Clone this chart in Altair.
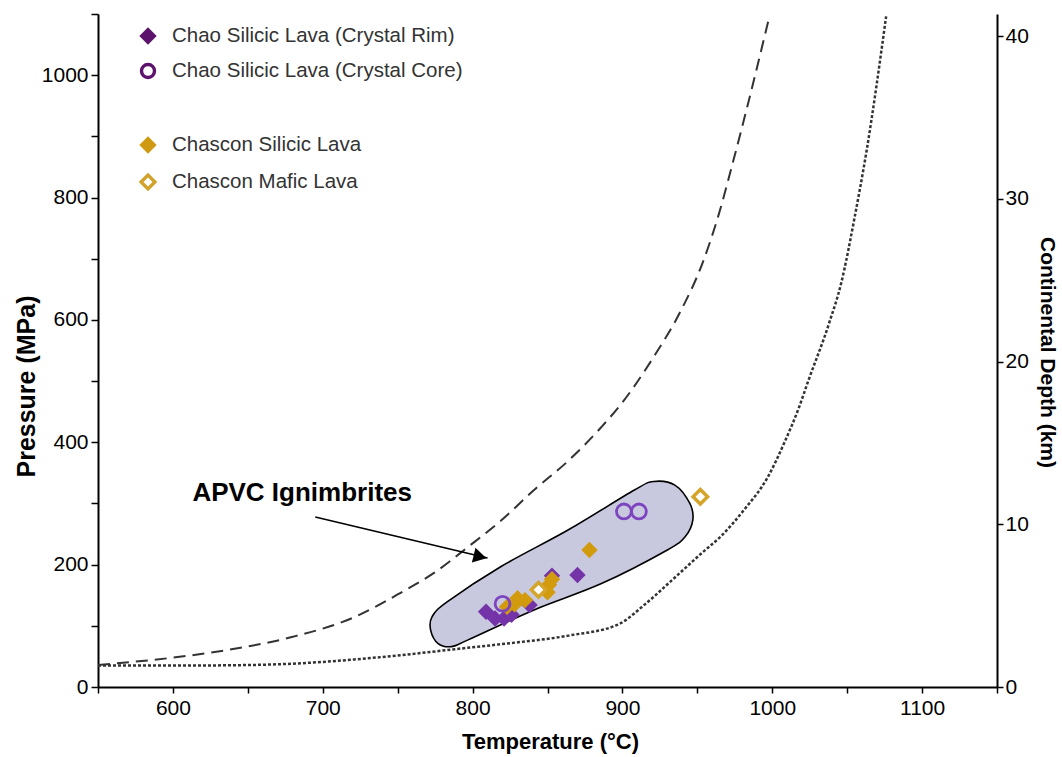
import altair as alt
import pandas as pd

FONT = "Liberation Sans"

# ---- boundary curves (Temperature °C, Pressure MPa) ----
dash_T = [550, 600, 635, 680, 721, 752, 774, 797, 819, 841, 864, 886, 899, 921, 939, 953, 964, 974, 984, 998]
dash_P = [36, 48, 60, 82, 114, 154, 186, 229, 272, 322, 370, 425, 462, 540, 615, 690, 770, 860, 955, 1095]

dot_T = [550, 600, 653, 700, 721, 752, 789, 819, 864, 897, 915, 931, 953, 966, 981, 997, 1008, 1018, 1024, 1038, 1046, 1055, 1063, 1076]
dot_P = [35, 35, 36, 41, 45, 52, 62, 70, 84, 102, 135, 170, 219, 247, 289, 343, 399, 458, 500, 595, 660, 768, 877, 1096]

# ---- APVC ignimbrite field outline ----
field_T = [773, 783, 819, 864, 908, 921, 935, 945, 947, 942, 930, 886, 841, 797, 786, 777, 772]
field_P = [115, 139, 197, 257, 322, 336, 330, 300, 273, 246, 224, 169, 126, 77, 66, 71, 93]

# ---- samples ----
rim_T = [809, 815, 821, 826, 838, 853, 870]
rim_P = [123, 112, 112, 118, 134, 182, 183]

core_T = [820, 901, 911]
core_P = [136, 287, 287]

sil_T = [823, 828, 830, 835, 850, 851, 853, 878]
sil_P = [131, 135, 145, 142, 155, 167, 176, 224]

maf_T = [844, 952]
maf_P = [159, 311]

# annotation
label_T, label_P = [613], [317]
arrow_T0, arrow_P0 = [695], [278]
arrow_T1, arrow_P1 = [810], [211]
head_T, head_P = [805], [213]

MPA_PER_KM = 26.6
depth_ticks = [0, 10, 20, 30, 40]

legend_labels = ["Chao Silicic Lava (Crystal Rim)", "Chao Silicic Lava (Crystal Core)",
                 "Chascon Silicic Lava", "Chascon Mafic Lava"]

xscale = alt.Scale(domain=[550, 1150], nice=False, zero=False)
yscale = alt.Scale(domain=[0, 1100], nice=False)

xaxis = alt.Axis(
    values=list(range(550, 1151, 50)), format="d",
    labelExpr="datum.value % 100 == 0 ? datum.label : ''",
    title="Temperature (°C)", titleFont=FONT, titleFontSize=22, titleFontWeight="bold",
    titleColor="black", titleX=452, titleY=44, titleAnchor="middle",
    labelFont=FONT, labelFontSize=21, labelColor="black", labelPadding=4,
    tickSize=6, tickColor="black", tickWidth=1.5,
    domainColor="black", domainWidth=2, grid=False, labelFlush=False, labelOverlap=False)

yaxis = alt.Axis(
    values=list(range(0, 1101, 100)), format="d",
    labelExpr="datum.value % 200 == 0 ? datum.label : ''",
    title="Pressure (MPa)", titleFont=FONT, titleFontSize=25, titleFontWeight="bold",
    titleColor="black", titleX=-72, titleY=372, titleBaseline="middle", titleAngle=270,
    labelFont=FONT, labelFontSize=21, labelColor="black", labelPadding=3,
    tickSize=7, tickColor="black", tickWidth=1.5,
    domainColor="black", domainWidth=2, grid=False, labelFlush=False, labelOverlap=False)


def X():
    return alt.X("T:Q", scale=xscale, axis=xaxis)


def Y():
    return alt.Y("P:Q", scale=yscale, axis=yaxis)


def df(T, P):
    return pd.DataFrame({"T": T, "P": P, "i": range(len(T))})


field = alt.Chart(df(field_T, field_P)).mark_line(
    interpolate="cardinal-closed", fill="#c8c8df", stroke="black", strokeWidth=1.6
).encode(x=X(), y=Y(), order="i:Q")

dashed = alt.Chart(df(dash_T, dash_P)).mark_line(
    interpolate="monotone", color="#333333", strokeWidth=2, strokeDash=[12, 7], clip=True
).encode(x=X(), y=Y(), order="i:Q")

dotted = alt.Chart(df(dot_T, dot_P)).mark_line(
    interpolate="monotone", color="#333333", strokeWidth=2.5, strokeDash=[3, 2], clip=True
).encode(x=X(), y=Y(), order="i:Q")

arrow = alt.Chart(pd.DataFrame({"T": arrow_T0, "P": arrow_P0, "T1": arrow_T1, "P1": arrow_P1})).mark_rule(
    color="black", strokeWidth=1.6
).encode(x=X(), y=Y(), x2="T1:Q", y2="P1:Q")

head = alt.Chart(df(head_T, head_P)).mark_point(
    shape="triangle-right", angle=13.5, size=230, filled=True, color="black", opacity=1
).encode(x=X(), y=Y())

label = alt.Chart(pd.DataFrame({"T": label_T, "P": label_P, "txt": ["APVC Ignimbrites"]})).mark_text(
    align="left", baseline="middle", font=FONT, fontSize=26, fontWeight="bold", color="black"
).encode(x=X(), y=Y(), text="txt:N")

rim = alt.Chart(df(rim_T, rim_P)).mark_point(
    shape="diamond", size=270, filled=True, color="#7434a8", opacity=1
).encode(x=X(), y=Y())

sil = alt.Chart(df(sil_T, sil_P)).mark_point(
    shape="diamond", size=270, filled=True, color="#d29b0e", opacity=1
).encode(x=X(), y=Y())

maf = alt.Chart(df(maf_T, maf_P)).mark_point(
    shape="diamond", size=210, filled=False, stroke="#d4a52a", strokeWidth=3.5, fill="white", opacity=1
).encode(x=X(), y=Y())

core = alt.Chart(df(core_T, core_P)).mark_point(
    shape="circle", size=220, filled=False, stroke="#7d44bf", strokeWidth=2.8, opacity=1
).encode(x=X(), y=Y())

# ---- manual legend (pixel offsets inside the plot area) ----
leg_y = [22, 57, 131, 168]
leg_marks = [
    dict(shape="diamond", size=300, filled=True, color="#5c136c"),
    dict(shape="circle", size=170, filled=False, stroke="#5c136c", strokeWidth=3.4),
    dict(shape="diamond", size=300, filled=True, color="#cf9a12"),
    dict(shape="diamond", size=190, filled=False, stroke="#d1a22a", strokeWidth=3.4),
]
legend_layers = []
for lab, yy, mk in zip(legend_labels, leg_y, leg_marks):
    one = pd.DataFrame({"txt": [lab]})
    legend_layers.append(alt.Chart(one).mark_point(opacity=1, **mk).encode(
        x=alt.value(50), y=alt.value(yy)))
    legend_layers.append(alt.Chart(one).mark_text(
        align="left", baseline="middle", font=FONT, fontSize=20.5, color="#333333"
    ).encode(x=alt.value(74), y=alt.value(yy), text="txt:N"))

main = alt.layer(field, dashed, dotted, arrow, head, label, rim, sil, core, maf, *legend_layers)

depth = alt.Chart(pd.DataFrame({"D": depth_ticks})).mark_point(opacity=0).encode(
    y=alt.Y("D:Q", scale=alt.Scale(domain=[0, 1100 / MPA_PER_KM], nice=False),
            axis=alt.Axis(orient="right", values=depth_ticks, format="d",
                          title="Continental Depth (km)", titleFont=FONT, titleFontSize=21,
                          titleFontWeight="bold", titleColor="black", titleAngle=90,
                          titleBaseline="middle", titleX=49, titleY=338,
                          labelFont=FONT, labelFontSize=21, labelColor="black", labelPadding=2,
                          tickSize=6, tickColor="black", tickWidth=1.5,
                          domainColor="black", domainWidth=2, grid=False,
                          labelFlush=False, labelOverlap=False))
)

chart = alt.layer(main, depth).resolve_scale(y="independent").properties(
    width=899, height=673,
    autosize=alt.AutoSizeParams(type="none"),
    padding={"left": 98, "top": 14, "right": 65, "bottom": 70},
    background="white",
).configure_view(stroke=None)

chart.save("out.html", embed_options={"renderer": "svg", "actions": False})
